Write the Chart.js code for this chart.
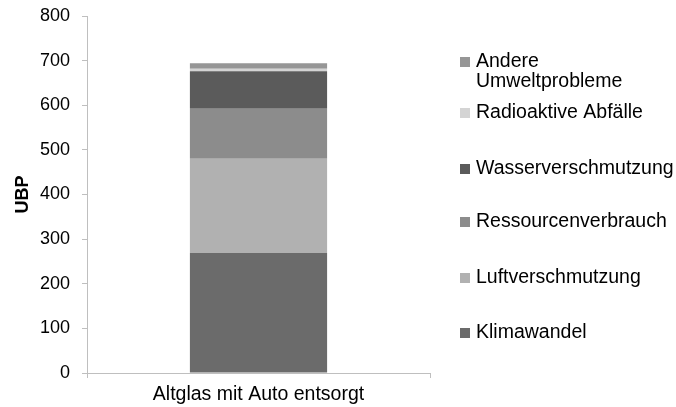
<!DOCTYPE html>
<html>
<head>
<meta charset="utf-8">
<script src="https://cdn.jsdelivr.net/npm/chart.js@4/dist/chart.umd.min.js"></script>
<style>
  html, body { margin: 0; padding: 0; background: #fff; }
  #wrap { width: 676px; height: 407px; }
</style>
</head>
<body>
<div id="wrap"><canvas id="chart" width="676" height="407"></canvas></div>
<script>
// data
const categories = ['Altglas mit Auto entsorgt'];
const seriesNames = ['Klimawandel', 'Luftverschmutzung', 'Ressourcenverbrauch',
  'Wasserverschmutzung', 'Radioaktive Abfälle', ['Andere', 'Umweltprobleme']];
const klimawandel = [269];
const luftverschmutzung = [211];
const ressourcenverbrauch = [112];
const wasserverschmutzung = [84];
const radioaktiveAbfaelle = [6];
const andereUmweltprobleme = [12];
const seriesColors = ['#6b6b6b', '#b1b1b1', '#8c8c8c', '#5b5b5b', '#d4d4d4', '#969696'];
const yTicks = [0, 100, 200, 300, 400, 500, 600, 700, 800];

const FONT = 'Liberation Sans, Arial, sans-serif';
const values = [klimawandel, luftverschmutzung, ressourcenverbrauch,
  wasserverschmutzung, radioaktiveAbfaelle, andereUmweltprobleme];

// legend on the right, last series on top
const sideLegend = {
  id: 'sideLegend',
  afterDraw(chart) {
    const ctx = chart.ctx;
    const rows = [62, 113, 169, 222, 278, 333]; // top to bottom
    ctx.save();
    ctx.font = '19.5px ' + FONT;
    ctx.textBaseline = 'middle';
    chart.data.datasets.slice().reverse().forEach((ds, i) => {
      const y = rows[i];
      ctx.fillStyle = ds.backgroundColor;
      ctx.fillRect(460, y - 5, 10, 10);
      ctx.fillStyle = '#000';
      const lines = Array.isArray(ds.label) ? ds.label : [ds.label];
      lines.forEach((t, k) => ctx.fillText(t, 476, y + k * 20));
    });
    ctx.restore();
  }
};

new Chart(document.getElementById('chart'), {
  type: 'bar',
  data: {
    labels: categories,
    datasets: seriesNames.map((name, i) => ({
      label: name,
      data: values[i],
      backgroundColor: seriesColors[i],
      borderWidth: 0,
      barPercentage: 0.4,
      categoryPercentage: 1
    }))
  },
  options: {
    responsive: false,
    animation: false,
    layout: { padding: { left: 0, right: 246, top: 0, bottom: 0 } },
    plugins: {
      legend: { display: false },
      tooltip: { enabled: false }
    },
    scales: {
      x: {
        stacked: true,
        afterFit(scale) { scale.height = 34; },
        grid: { display: true, drawOnChartArea: false, color: '#bfbfbf', tickLength: 5, offset: true },
        border: { color: '#bfbfbf' },
        ticks: { color: '#000', padding: 5, font: { family: FONT, size: 19.5 } }
      },
      y: {
        stacked: true,
        min: 0,
        max: 800,
        afterFit(scale) { scale.width = 87; scale.paddingTop = 16; },
        afterBuildTicks(scale) { scale.ticks = yTicks.map(v => ({ value: v })); },
        grid: { display: true, drawOnChartArea: false, color: '#bfbfbf', tickLength: 5 },
        border: { color: '#bfbfbf' },
        title: { display: true, text: 'UBP', color: '#000', padding: { top: 12, bottom: 0 }, font: { family: FONT, size: 18, weight: 'bold' } },
        ticks: { color: '#000', padding: 12, font: { family: FONT, size: 18 } }
      }
    }
  },
  plugins: [sideLegend]
});
</script>
</body>
</html>
